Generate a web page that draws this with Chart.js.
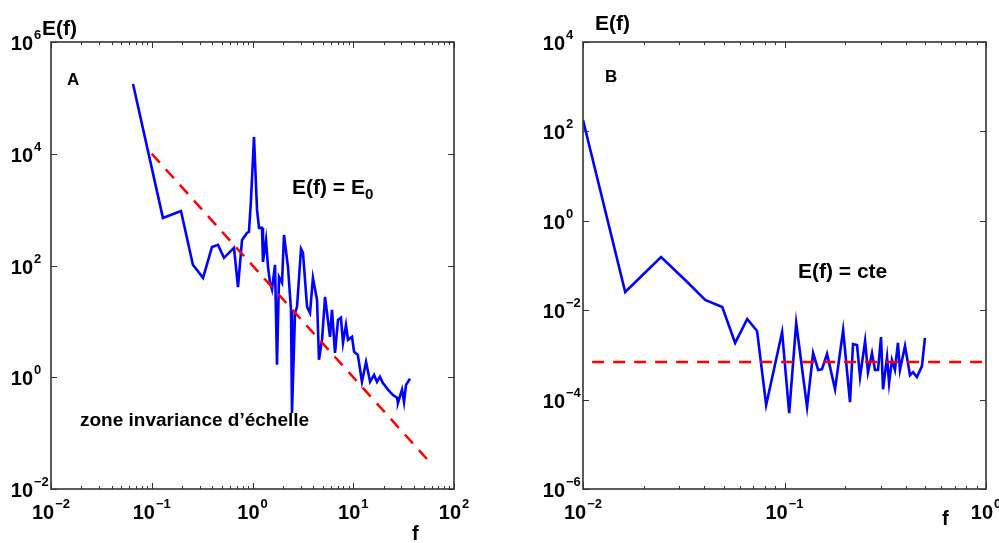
<!DOCTYPE html>
<html>
<head>
<meta charset="utf-8">
<script src="https://cdn.jsdelivr.net/npm/chart.js@4.4.0/dist/chart.umd.min.js"></script>
<style>
  html, body { margin: 0; padding: 0; background: #fff; }
  body { width: 999px; height: 543px; position: relative; overflow: hidden; }
  canvas { position: absolute; top: 0; }
  #chartA { left: 0; }
  #chartB { left: 520px; }
  .t { position: absolute; font-family: "Liberation Sans", Arial, sans-serif; font-weight: bold;
       color: #000; white-space: nowrap; line-height: 1; }
  .t sub { font-size: 0.72em; vertical-align: -0.3em; line-height: 0; }
</style>
</head>
<body>
<canvas id="chartA" width="480" height="543"></canvas>
<canvas id="chartB" width="500" height="543"></canvas>

<div class="t" style="left:42px;top:17px;font-size:21px;">E(f)</div>
<div class="t" style="left:595px;top:12px;font-size:21px;">E(f)</div>
<div class="t" style="left:67px;top:71px;font-size:17px;">A</div>
<div class="t" style="left:605px;top:68px;font-size:17px;">B</div>
<div class="t" style="left:292px;top:176px;font-size:21px;">E(f) = E<sub>0</sub></div>
<div class="t" style="left:798px;top:260px;font-size:21px;">E(f) = cte</div>
<div class="t" style="left:80px;top:410px;font-size:19px;">zone invariance d’échelle</div>
<div class="t" style="left:412px;top:523px;font-size:20px;">f</div>
<div class="t" style="left:942px;top:508px;font-size:20px;">f</div>

<script>
// panel A — spectrum with f^-2 scaling
const freqA = [0.0652, 0.129, 0.195, 0.256, 0.323, 0.396, 0.455, 0.521, 0.655, 0.718,
  0.787, 0.881, 0.922, 0.966, 1.035, 1.109, 1.161, 1.243, 1.271, 1.362,
  1.426, 1.493, 1.562, 1.673, 1.750, 1.833, 1.963, 2.055, 2.250, 2.411,
  2.466, 2.642, 2.767, 3.03, 3.17, 3.48, 3.72, 3.98, 4.37, 4.57,
  4.90, 5.25, 5.49, 5.88, 6.15, 6.59, 7.06, 7.55, 7.91, 8.47,
  8.87, 9.72, 10.2, 11.1, 12.2, 13.4, 14.7, 16.1, 17.2, 18.4,
  19.7, 22.1, 24.8, 27.2, 27.8, 30.5, 31.9, 33.4, 36.6];
const energyA = [1.77e5, 711, 948, 103, 60, 215, 234, 137, 207, 41,
  287, 383, 399, 1490, 2.0e4, 988, 471, 471, 116, 287,
  94, 49, 37, 103, 1.67, 62.5, 49, 352, 94, 16,
  0.23, 14.2, 18.2, 198, 168, 18.2, 14.2, 60, 24.3, 2.05,
  4.67, 27.4, 14.2, 5.28, 16.1, 2.73, 10.6, 11.6, 4.12, 8.65,
  4.67, 5.28, 2.85, 2.52, 0.83, 1.88, 0.83, 1.10, 0.83, 1.02,
  0.79, 0.60, 0.48, 0.43, 0.35, 0.60, 0.36, 0.73, 0.94];
const fitFreqA = [0.1, 60];
const fitEnergyA = [1e4, 0.0278];

// panel B — flat (white noise) spectrum
const freqB = [0.01, 0.0162, 0.0244, 0.0329, 0.0404, 0.0491, 0.0569, 0.0653, 0.0731, 0.0811,
  0.0973, 0.1055, 0.1143, 0.1294, 0.1387, 0.1469, 0.1535, 0.1626, 0.1782, 0.1954,
  0.2114, 0.2188, 0.2291, 0.2371, 0.2512, 0.2596, 0.2718, 0.2812, 0.2911, 0.3013,
  0.3083, 0.3228, 0.3304, 0.3414, 0.3532, 0.3656, 0.3741, 0.3963, 0.4198, 0.4346,
  0.4541, 0.4809, 0.4977];
const energyB = [180, 0.0255, 0.155, 0.0428, 0.0169, 0.0118, 0.00185, 0.00635, 0.00343, 7.6e-5,
  0.00325, 5.0e-5, 0.00518, 6.8e-5, 0.0011, 4.6e-4, 4.8e-4, 0.00105, 1.7e-4, 0.0036,
  8.8e-5, 0.00175, 0.00166, 3.2e-4, 0.00205, 4.1e-4, 0.0011, 4.6e-4, 4.6e-4, 0.0025,
  1.7e-4, 8.97e-4, 2.35e-4, 7.7e-4, 4.6e-4, 0.00185, 4.6e-4, 0.00158, 3.5e-4, 4.1e-4,
  3.2e-4, 5.6e-4, 0.0024];
const fitFreqB = [0.0111, 1];
const fitEnergyB = [6.9e-4, 6.9e-4];

// labelled decades
const xDecadesA = [0.01, 0.1, 1, 10, 100];
const yDecadesA = [0.01, 1, 100, 1e4, 1e6];
const xDecadesB = [0.01, 0.1, 1];
const yDecadesB = [1e-6, 1e-4, 1e-2, 1, 100, 1e4];

const FAMILY = "'Liberation Sans', Arial, sans-serif";
const expOf = v => String(Math.round(Math.log10(v))).replace("-", "\u2212");
const isDecade = v => Math.abs(Math.log10(v) - Math.round(Math.log10(v))) < 1e-6;
const inList = (list, v) => list.some(d => Math.abs(d - v) / d < 1e-6);

// minor tick positions 1..9 x 10^n
function minorTicks(lo, hi) {
  const out = [];
  for (let e = Math.round(Math.log10(lo)); e <= Math.round(Math.log10(hi)); e++) {
    for (let k = 1; k <= 9; k++) {
      const v = k * Math.pow(10, e);
      if (v >= lo * 0.999 && v <= hi * 1.001) out.push(v);
    }
  }
  return out;
}

const pts = (xs, ys) => xs.map((x, i) => ({ x, y: ys[i] }));

// "10" with a raised exponent; "right" anchors the right edge of "10"
function drawPower(ctx, v, x, baseY, align) {
  ctx.font = "bold 20px " + FAMILY;
  const w1 = ctx.measureText("10").width;
  ctx.font = "bold 13px " + FAMILY;
  const e = expOf(v);
  const w2 = ctx.measureText(e).width + 1;
  const start = align === "right" ? x - w1 : x - (w1 + w2) / 2;
  ctx.textAlign = "left";
  ctx.textBaseline = "alphabetic";
  ctx.font = "bold 20px " + FAMILY;
  ctx.fillText("10", start, baseY);
  ctx.font = "bold 13px " + FAMILY;
  ctx.fillText(e, start + w1 + 1, baseY - 11);
}

// box, inward ticks on all four sides, decade labels
const framePlugin = {
  id: "frame",
  afterDraw(chart, args, opts) {
    const { ctx, chartArea: a, scales } = chart;
    const x = scales.x, y = scales.y;
    ctx.save();
    ctx.strokeStyle = "#333";
    ctx.lineWidth = 1;
    ctx.beginPath();
    x.ticks.forEach(t => {
      const px = Math.round(x.getPixelForValue(t.value)) + 0.5;
      const len = isDecade(t.value) ? 6 : 3;
      ctx.moveTo(px, a.bottom); ctx.lineTo(px, a.bottom - len);
      ctx.moveTo(px, a.top); ctx.lineTo(px, a.top + len);
    });
    y.ticks.forEach(t => {
      const py = Math.round(y.getPixelForValue(t.value)) + 0.5;
      ctx.moveTo(a.left, py); ctx.lineTo(a.left + 6, py);
      ctx.moveTo(a.right, py); ctx.lineTo(a.right - 6, py);
    });
    ctx.stroke();
    ctx.lineWidth = 1.6;
    ctx.strokeRect(a.left, a.top, a.right - a.left, a.bottom - a.top);

    ctx.fillStyle = "#000";
    x.ticks.forEach(t => {
      if (inList(opts.xDecades, t.value)) drawPower(ctx, t.value, x.getPixelForValue(t.value), a.bottom + 30, "center");
    });
    y.ticks.forEach(t => {
      drawPower(ctx, t.value, a.left - 18, y.getPixelForValue(t.value) + 8, "right");
    });
    ctx.restore();
  }
};

function makeChart(id, opt) {
  return new Chart(document.getElementById(id), {
    type: "line",
    data: {
      datasets: [
        {
          data: pts(opt.fitX, opt.fitY),
          borderColor: "#ff0000",
          borderWidth: 2.5,
          borderDash: [12, 9],
          pointRadius: 0,
          tension: 0,
          fill: false
        },
        {
          data: pts(opt.x, opt.y),
          borderColor: "#0000ff",
          borderWidth: 2.6,
          pointRadius: 0,
          tension: 0,
          fill: false
        }
      ]
    },
    options: {
      responsive: false,
      animation: false,
      events: [],
      layout: { padding: opt.padding },
      plugins: {
        legend: { display: false },
        tooltip: { enabled: false },
        frame: { xDecades: opt.xDecades }
      },
      scales: {
        x: {
          type: "logarithmic",
          min: opt.xMin, max: opt.xMax,
          afterFit: s => { s.height = 54; },
          afterBuildTicks: s => { s.ticks = minorTicks(opt.xMin, opt.xMax).map(v => ({ value: v })); },
          ticks: { display: false },
          grid: { display: false },
          border: { display: false }
        },
        y: {
          type: "logarithmic",
          min: opt.yMin, max: opt.yMax,
          afterFit: s => { s.width = opt.yWidth; },
          afterBuildTicks: s => { s.ticks = opt.yDecades.map(v => ({ value: v })); },
          ticks: { display: false },
          grid: { display: false },
          border: { display: false }
        }
      }
    },
    plugins: [framePlugin]
  });
}

makeChart("chartA", {
  x: freqA, y: energyA, fitX: fitFreqA, fitY: fitEnergyA,
  xMin: 0.01, xMax: 100, yMin: 0.01, yMax: 1e6,
  xDecades: xDecadesA, yDecades: yDecadesA,
  yWidth: 51,
  padding: { left: 0, right: 26, top: 42, bottom: 0 }
});

makeChart("chartB", {
  x: freqB, y: energyB, fitX: fitFreqB, fitY: fitEnergyB,
  xMin: 0.01, xMax: 1, yMin: 1e-6, yMax: 1e4,
  xDecades: xDecadesB, yDecades: yDecadesB,
  yWidth: 63,
  padding: { left: 0, right: 34, top: 42, bottom: 0 }
});
</script>
</body>
</html>
